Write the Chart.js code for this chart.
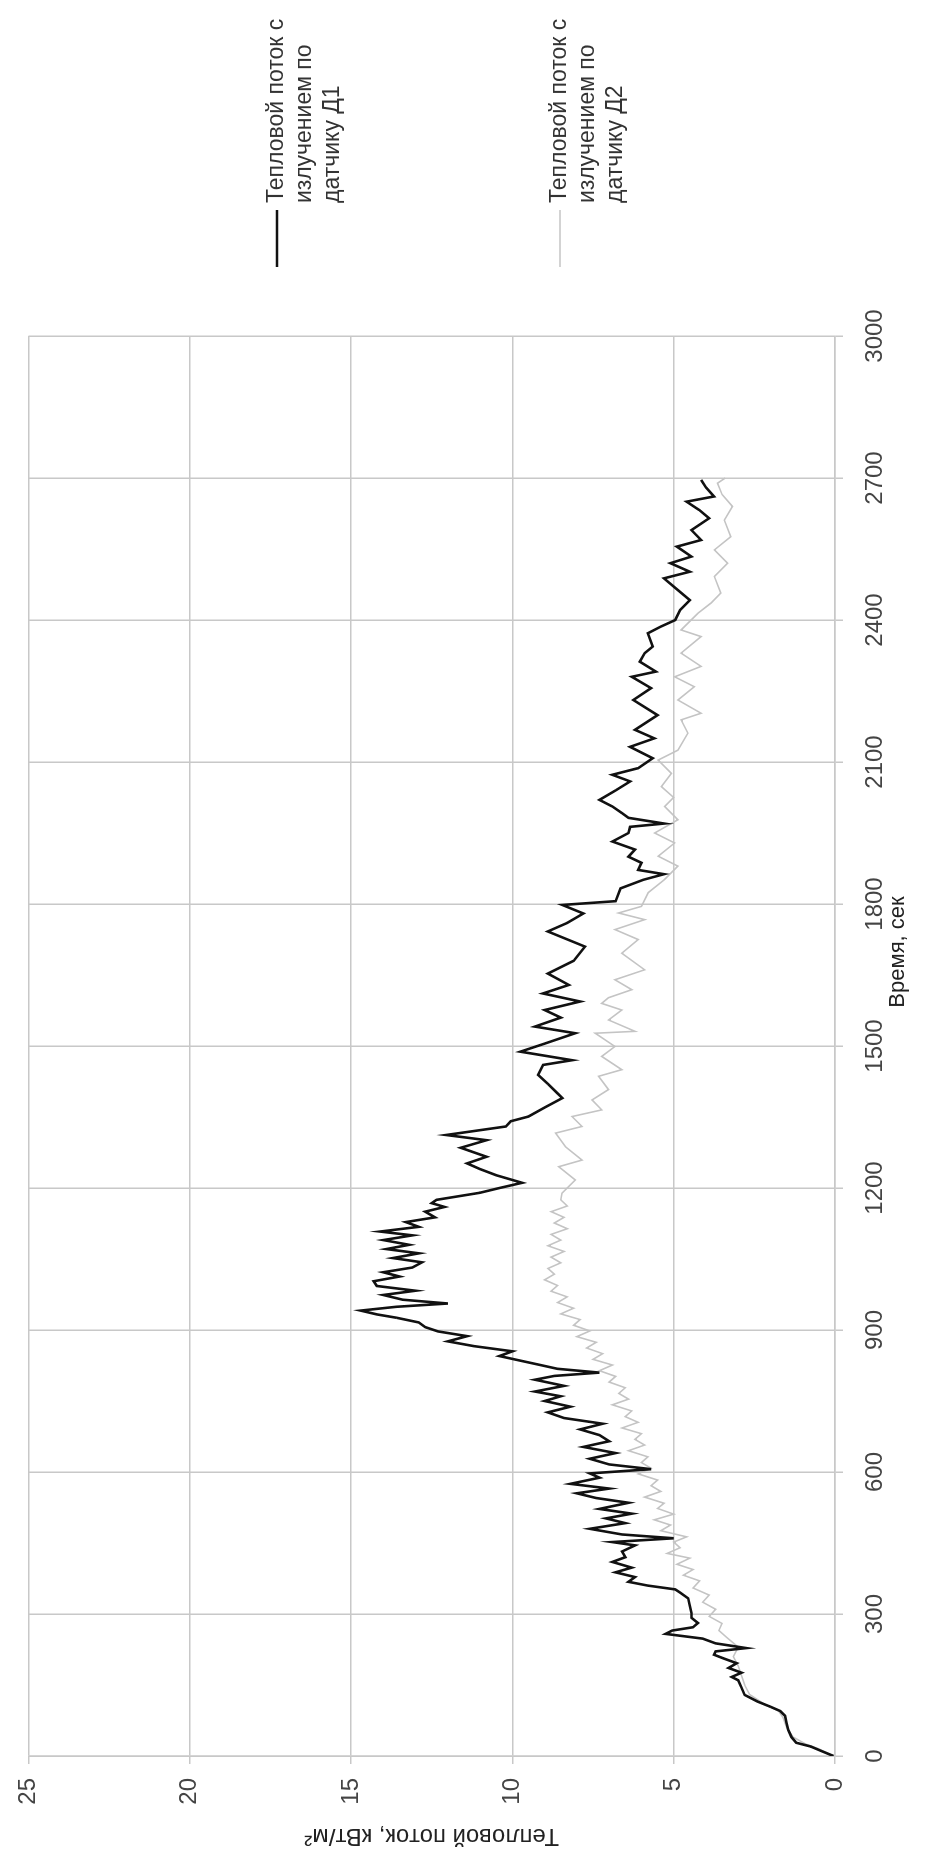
<!DOCTYPE html>
<html lang="ru">
<head>
<meta charset="utf-8">
<title>Тепловой поток с излучением</title>
<script src="https://cdn.jsdelivr.net/npm/chart.js@4.4.1/dist/chart.umd.min.js"></script>
<style>
  html, body { margin: 0; padding: 0; background: #fff; overflow: hidden; width: 929px; height: 1852px; }
  /* график строится в альбомной ориентации и поворачивается на 90° против часовой */
  #frame {
    position: absolute; left: 0; top: 0;
    width: 1852px; height: 929px;
    transform-origin: 0 0;
    transform: translateY(1852px) rotate(-90deg);
    background: #fff;
  }
</style>
</head>
<body>
<div id="frame"><canvas id="chart" width="1852" height="929"></canvas></div>
<script>
// Датчик Д1: время, с / тепловой поток, кВт/м2
const timeD1 = [
  0, 10, 20, 28, 40, 55, 70, 85, 95, 104, 115, 129, 145, 160, 167, 176, 186, 196, 206, 214,
  221, 228, 238, 248, 258, 265, 272, 281, 292, 302, 318, 333, 345, 352, 360, 368, 378, 388, 398, 410,
  420, 432, 445, 452, 460, 468, 480, 492, 502, 512, 522, 535, 545, 555, 565, 575, 588, 597, 606, 616,
  628, 640, 653, 665, 678, 690, 702, 714, 726, 738, 750, 760, 770, 782, 795, 803, 810, 818, 827, 836,
  845, 855, 866, 876, 887, 897, 906, 916, 926, 933, 941, 949, 956, 964, 974, 983, 993, 1003, 1013, 1022,
  1032, 1043, 1052, 1062, 1071, 1080, 1090, 1100, 1108, 1118, 1128, 1138, 1150, 1160, 1168, 1175, 1190, 1200, 1211, 1227,
  1240, 1252, 1266, 1285, 1301, 1312, 1330, 1341, 1351, 1370, 1390, 1400, 1420, 1439, 1460, 1470, 1488, 1505, 1527, 1541,
  1560, 1576, 1594, 1611, 1629, 1653, 1680, 1710, 1742, 1760, 1780, 1798, 1806, 1833, 1851, 1863, 1872, 1887, 1900, 1915,
  1932, 1950, 1963, 1970, 1982, 1992, 2006, 2020, 2040, 2059, 2073, 2087, 2108, 2132, 2150, 2168, 2199, 2231, 2256, 2280,
  2291, 2312, 2330, 2344, 2372, 2386, 2400, 2421, 2442, 2465, 2488, 2502, 2520, 2534, 2555, 2569, 2590, 2615, 2632, 2650,
  2661, 2680, 2696
];
const fluxD1 = [
  0.05, 0.4, 0.75, 1.2, 1.35, 1.45, 1.5, 1.55, 1.7, 2.0, 2.4, 2.8, 2.9, 3.0, 3.2, 2.9, 3.3, 3.05, 3.45, 3.75,
  3.7, 2.75, 3.7, 4.1, 5.25, 5.05, 4.4, 4.25, 4.45, 4.45, 4.5, 4.55, 4.8, 4.95, 5.8, 6.4, 6.2, 6.8, 6.3, 6.9,
  6.5, 6.6, 6.2, 6.9, 5.0, 6.6, 7.6, 6.5, 7.1, 6.3, 7.3, 6.4, 7.4, 8.0, 7.0, 8.2, 7.3, 7.6, 5.7, 7.0,
  7.6, 6.8, 7.8, 7.0, 7.3, 7.9, 7.2, 8.4, 8.9, 8.2, 9.0, 8.5, 9.3, 8.4, 9.3, 8.7, 7.3, 8.6, 9.2, 9.8,
  10.4, 10.0, 11.2, 12.0, 11.4, 12.3, 12.7, 12.9, 13.6, 14.2, 14.7, 13.6, 12.0, 13.4, 14.0, 13.0, 14.2, 14.3, 13.5, 14.0,
  13.1, 12.8, 13.7, 12.9, 13.9, 13.2, 14.0, 13.1, 14.1, 12.9, 13.3, 12.4, 12.7, 12.1, 12.5, 12.35, 11.0, 10.4, 9.7, 10.5,
  11.0, 11.4, 10.8, 11.6, 10.8, 12.05, 10.2, 10.05, 9.5, 9.0, 8.45, 8.6, 8.9, 9.2, 9.05, 8.15, 9.75, 9.0, 8.05, 9.3,
  8.5, 9.0, 7.9, 9.05, 8.25, 8.9, 8.1, 7.75, 8.9, 8.3, 7.8, 8.45, 6.8, 6.65, 5.95, 5.3, 6.1, 6.0, 6.4, 6.2,
  6.9, 6.4, 6.35, 5.3, 6.4, 6.6, 6.9, 7.3, 6.8, 6.35, 6.9, 6.1, 5.65, 6.35, 5.6, 6.2, 5.5, 6.25, 5.7, 6.3,
  5.55, 6.05, 5.9, 5.65, 5.8, 5.4, 4.95, 4.8, 4.5, 4.9, 5.3, 4.5, 5.1, 4.45, 4.9, 4.15, 4.45, 3.9, 4.2, 4.6,
  3.75, 4.0, 4.15
];

// Датчик Д2
const timeD2 = [
  0, 15, 25, 40, 60, 80, 95, 110, 130, 150, 170, 190, 210, 230, 250, 265, 280, 295, 310, 325,
  340, 355, 370, 382, 394, 405, 418, 428, 440, 452, 463, 476, 488, 499, 511, 523, 534, 547, 559, 571,
  583, 596, 608, 620, 632, 645, 657, 669, 681, 693, 705, 717, 729, 742, 754, 766, 778, 790, 802, 814,
  826, 838, 850, 862, 874, 886, 898, 910, 922, 934, 946, 958, 970, 982, 994, 1006, 1018, 1030, 1042, 1054,
  1066, 1078, 1090, 1102, 1114, 1126, 1138, 1150, 1162, 1175, 1189, 1217, 1245, 1259, 1287, 1316, 1330, 1351, 1365, 1386,
  1408, 1436, 1450, 1478, 1499, 1527, 1531, 1555, 1576, 1590, 1602, 1619, 1640, 1661, 1696, 1725, 1746, 1767, 1781, 1795,
  1824, 1852, 1880, 1901, 1929, 1950, 1978, 2006, 2025, 2048, 2076, 2104, 2125, 2161, 2189, 2203, 2231, 2259, 2280, 2302,
  2330, 2365, 2379, 2414, 2436, 2457, 2492, 2520, 2548, 2576, 2611, 2640, 2665, 2689, 2700
];
const fluxD2 = [
  0.05, 0.5, 0.9, 1.3, 1.5, 1.6, 1.75, 2.2, 2.65, 2.8, 2.9, 3.0, 3.15, 3.0, 3.35, 3.6, 3.5, 3.9, 3.7, 4.1,
  3.9, 4.4, 4.2, 4.7, 4.4, 4.9, 4.5, 5.2, 4.8, 5.0, 4.6, 5.4, 5.1, 5.6, 5.0, 5.5, 5.3, 5.9, 5.4, 5.7,
  5.5, 6.1, 5.7, 6.0, 5.8, 6.4, 5.9, 6.2, 6.0, 6.6, 6.1, 6.5, 6.3, 6.9, 6.4, 6.7, 6.5, 7.0, 6.8, 7.3,
  6.9, 7.5, 7.2, 7.7, 7.4, 8.0, 7.6, 8.1, 7.9, 8.5, 8.1, 8.6, 8.3, 8.8, 8.6, 9.0, 8.7, 8.9, 8.5, 8.8,
  8.4, 8.9, 8.5, 8.8, 8.3, 8.7, 8.4, 8.8, 8.3, 8.5, 8.46, 8.05, 8.56, 7.84, 8.35, 8.66, 7.84, 8.15, 7.23, 7.53,
  7.02, 7.33, 6.61, 7.23, 6.82, 7.43, 6.2, 7.02, 6.61, 7.23, 7.02, 6.3, 6.82, 5.9, 6.61, 6.1, 6.82, 5.9, 6.71, 6.0,
  5.79, 5.28, 4.87, 5.48, 4.97, 5.59, 4.87, 5.28, 5.0, 5.38, 5.07, 5.48, 4.87, 4.56, 4.77, 4.15, 4.87, 4.36, 4.97, 4.15,
  4.77, 4.15, 4.77, 4.25, 3.84, 3.54, 3.74, 3.33, 3.74, 3.23, 3.43, 3.18, 3.5, 3.64, 3.4
];

const legendD1 = ['Тепловой поток с', 'излучением по', 'датчику Д1'];
const legendD2 = ['Тепловой поток с', 'излучением по', 'датчику Д2'];

const FONT = "'Liberation Sans', Arial, sans-serif";

function toPoints(times, values) {
  return times.map((t, i) => ({ x: t, y: values[i] }));
}

// легенда справа и подпись оси времени
const extras = {
  id: 'extras',
  afterDraw(chart) {
    const ctx = chart.ctx;
    ctx.save();
    ctx.font = '23px ' + FONT;
    ctx.fillStyle = '#333';
    ctx.textAlign = 'left';
    ctx.textBaseline = 'middle';

    const entries = [
      { lines: legendD1, y: 277, color: '#111', width: 2.6 },
      { lines: legendD2, y: 560, color: '#c4c4c4', width: 1.6 }
    ];
    entries.forEach(e => {
      ctx.strokeStyle = e.color;
      ctx.lineWidth = e.width;
      ctx.beginPath();
      ctx.moveTo(1585, e.y);
      ctx.lineTo(1642, e.y);
      ctx.stroke();
      e.lines.forEach((txt, k) => ctx.fillText(txt, 1649, e.y + k * 28));
    });

    ctx.font = '22px ' + FONT;
    ctx.fillStyle = '#222';
    ctx.textAlign = 'center';
    ctx.fillText('Время, сек', 900, 898);
    ctx.restore();
  }
};

new Chart(document.getElementById('chart'), {
  type: 'line',
  data: {
    datasets: [
      {
        label: 'Тепловой поток с излучением по датчику Д1',
        data: toPoints(timeD1, fluxD1),
        borderColor: '#111',
        borderWidth: 2.6,
        pointRadius: 0,
        tension: 0
      },
      {
        label: 'Тепловой поток с излучением по датчику Д2',
        data: toPoints(timeD2, fluxD2),
        borderColor: '#c4c4c4',
        borderWidth: 1.6,
        pointRadius: 0,
        tension: 0
      }
    ]
  },
  options: {
    responsive: false,
    animation: false,
    devicePixelRatio: 1,
    layout: { padding: { top: 21, right: 336, bottom: 0, left: 0 } },
    plugins: {
      legend: { display: false },
      tooltip: { enabled: false }
    },
    scales: {
      x: {
        type: 'linear',
        min: 0,
        max: 3000,
        afterFit: s => { s.height = 94; },
        ticks: {
          stepSize: 300,
          autoSkip: false,
          maxRotation: 0,
          padding: 18,
          color: '#444',
          font: { family: FONT, size: 24 },
          callback: v => String(v)
        },
        grid: { color: '#c8c8c8', lineWidth: 1.5, tickLength: 8 },
        border: { color: '#c8c8c8', width: 1.5 }
      },
      y: {
        min: 0,
        max: 25,
        afterFit: s => { s.width = 96; },
        ticks: {
          stepSize: 5,
          padding: 14,
          color: '#444',
          font: { family: FONT, size: 24 },
          callback: v => String(v)
        },
        title: {
          display: true,
          text: 'Тепловой поток, кВт/м²',
          color: '#222',
          font: { family: FONT, size: 24 },
          padding: { top: 2, bottom: 4 }
        },
        grid: { color: '#c8c8c8', lineWidth: 1.5, tickLength: 8 },
        border: { color: '#c8c8c8', width: 1.5 }
      }
    }
  },
  plugins: [extras]
});
</script>
</body>
</html>
